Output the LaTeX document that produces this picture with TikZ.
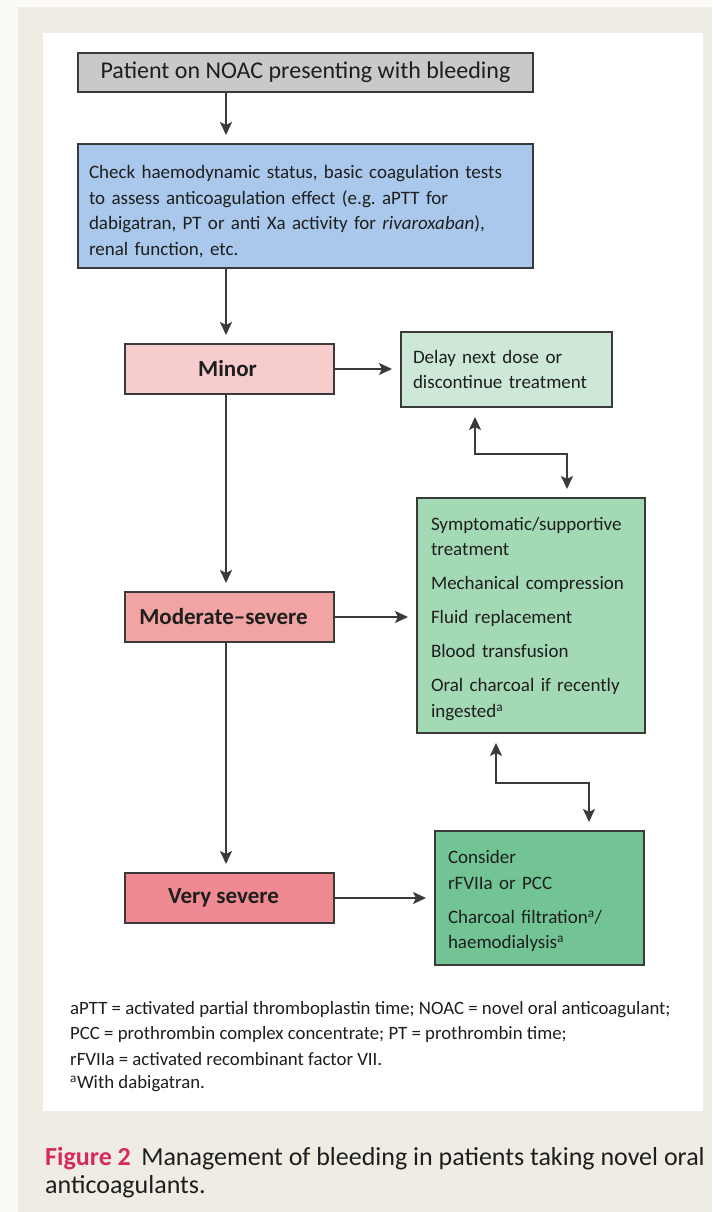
\documentclass[tikz,border=0pt]{standalone}
\usepackage{fontspec}
\setmainfont{Carlito}
\usetikzlibrary{arrows.meta}

\definecolor{pagebg}{HTML}{FBFAF7}
\definecolor{panelbg}{HTML}{EFEDE3}
\definecolor{textc}{HTML}{1E1E1E}
\definecolor{linec}{HTML}{3A3A3A}
\definecolor{greyfill}{HTML}{C9C9C9}
\definecolor{bluefill}{HTML}{A9C8EC}
\definecolor{minorfill}{HTML}{F7CCCC}
\definecolor{modfill}{HTML}{F2A4A4}
\definecolor{sevfill}{HTML}{EF8A92}
\definecolor{delayfill}{HTML}{CDE8D6}
\definecolor{sympfill}{HTML}{A4D9B6}
\definecolor{consfill}{HTML}{72C495}
\definecolor{figred}{HTML}{D62A5B}

% first-line strut that pushes a centred text block down
\newcommand{\lowerby}[1]{\rule{0pt}{\dimexpr 14pt+#1\relax}}

\tikzset{
  box/.style={draw=linec, line width=2pt, inner sep=0pt, text=textc},
  bodytext/.style={font=\fontsize{19}{25.5}\selectfont},
  gradebox/.style={box, minimum width=209pt, minimum height=50pt,
                   font=\bfseries\fontsize{23}{26}\selectfont},
  arr/.style={draw=linec, line width=1.8pt,
              -{Stealth[length=13pt,width=12pt,inset=3pt]}, shorten >=8pt},
  biarr/.style={draw=linec, line width=1.8pt, line join=miter,
                {Stealth[length=13pt,width=12pt,inset=3pt]}-{Stealth[length=13pt,width=12pt,inset=3pt]},
                shorten >=8pt, shorten <=9pt}
}

\begin{document}
\begin{tikzpicture}[x=1pt,y=-1pt]
  % page, beige frame and white panel
  \fill[pagebg] (0,0) rectangle (712,1212);
  \fill[panelbg] (18,7) rectangle (712,1212);
  \fill[white] (43,33) rectangle (703,1111);
  \useasboundingbox (0,0) rectangle (712,1212);

  % column of the main vertical flow
  \coordinate (col) at (226,0);

  % main flow
  \node[box, fill=greyfill, minimum width=455pt, minimum height=39pt,
        font=\fontsize{24}{28}\selectfont] (start) at (305.5,72.5)
        {Patient on NOAC presenting with bleeding};

  \node[box, bodytext, fill=bluefill, text width=433pt, inner xsep=11pt,
        minimum height=124pt, align=left] (check) at (305.5,206)
        {\lowerby{10pt}Check haemodynamic status, basic coagulation tests\\
         to assess anticoagulation effect (e.g.\ aPTT for\\
         dabigatran, PT or anti Xa activity for \textit{rivaroxaban}),\\
         renal function, etc.};

  \node[gradebox, fill=minorfill] (minor) at (229.5,369) {Minor\hspace*{4pt}};
  \node[gradebox, fill=modfill]   (mod)   at (229.5,617) {Moderate–severe\hspace*{12pt}};
  \node[gradebox, fill=sevfill]   (vsev)  at (229.5,898) {Very severe\hspace*{12pt}};

  % treatment boxes
  \node[box, bodytext, fill=delayfill, text width=187pt, inner xsep=12pt,
        minimum height=75pt, align=left] (delay) at (506.5,369.5)
        {Delay next dose or\\discontinue treatment};

  \node[box, bodytext, fill=sympfill, text width=200pt, inner xsep=14pt,
        minimum height=235pt, align=left] (symp) at (531,615.5)
        {\lowerby{6pt}Symptomatic/supportive\\treatment\\[8.5pt]
         Mechanical compression\\[8.5pt]
         Fluid replacement\\[8.5pt]
         Blood transfusion\\[8.5pt]
         Oral charcoal if recently\\ingested\textsuperscript{a}};

  \node[box, bodytext, fill=consfill, text width=183pt, inner xsep=13pt,
        minimum height=134pt, align=left] (cons) at (539.5,898)
        {\lowerby{6pt}Consider\\rFVIIa or PCC\\[8.5pt]
         Charcoal filtration\textsuperscript{a}/\\haemodialysis\textsuperscript{a}};

  % connectors
  \draw[arr] (start.south -| col) -- (check.north -| col);
  \draw[arr] (check.south -| col) -- (minor.north -| col);
  \draw[arr] (minor.south -| col) -- (mod.north -| col);
  \draw[arr] (mod.south -| col) -- (vsev.north -| col);

  \draw[arr] (minor.east) -- (delay.west |- minor.east);
  \draw[arr] (mod.east) -- (symp.west |- mod.east);
  \draw[arr] (vsev.east) -- (cons.west |- vsev.east);

  \coordinate (j1a) at (475,454);
  \coordinate (j1b) at (567,454);
  \draw[biarr] (delay.south -| j1a) -- (j1a) -- (j1b) -- (symp.north -| j1b);

  \coordinate (j2a) at (496,783);
  \coordinate (j2b) at (589,783);
  \draw[biarr] (symp.south -| j2a) -- (j2a) -- (j2b) -- (cons.north -| j2b);

  % abbreviations
  \node[anchor=north west, inner sep=0pt, align=left, text=textc,
        font=\fontsize{18.8}{25.5}\selectfont] (notes) at (70,1001)
        {aPTT = activated partial thromboplastin time; NOAC = novel oral anticoagulant;\\
         PCC = prothrombin complex concentrate; PT = prothrombin time;\\
         rFVIIa = activated recombinant factor VII.\\[-2pt]
         \textsuperscript{a}With dabigatran.};

  % caption
  \node[anchor=north west, inner sep=0pt, align=left, text=textc,
        font=\fontsize{26}{28}\selectfont] (caption) at (45,1147)
        {\textcolor{figred}{\textbf{Figure 2}}\hspace{0.4em}Management of bleeding in patients taking novel oral\\
         anticoagulants.};
\end{tikzpicture}
\end{document}
